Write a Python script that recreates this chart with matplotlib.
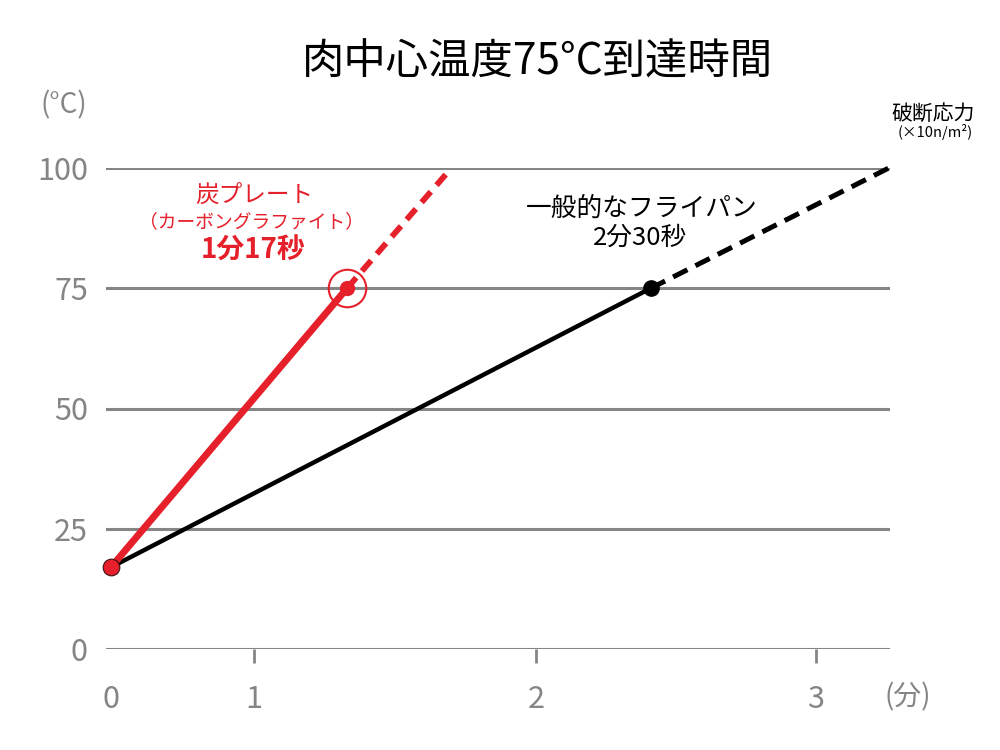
import numpy as np
import matplotlib
matplotlib.use("Agg")
import matplotlib.pyplot as plt

plt.rcParams['font.family'] = ['Noto Sans CJK JP', 'DejaVu Sans']

# data (minutes, degC)
start_temp = 17
plate_time = [0, 1.33]
plate_temp = [start_temp, 75]
plate_ext_time = [1.33, 1.70]
plate_ext_temp = [75, 100]
pan_time = [0, 2.41]
pan_temp = [start_temp, 75]
pan_ext_time = [2.41, 3.26]
pan_ext_temp = [75, 100]

x_ticks = [0, 1, 2, 3]
x_labels = ['0', '1', '2', '3']
y_ticks = [0, 25, 50, 75, 100]

RED = '#e5202a'
GRAY = '#858585'

# the drawn time axis is not evenly spaced: 0-1 is about half of 1-2 and 2-3
knot_min = np.array([-1, 0, 1, 2, 3, 4])
knot_pos = np.array([-32, 111, 254, 536, 816, 1096])


def fwd(x):
    return np.interp(x, knot_min, knot_pos)


def inv(p):
    return np.interp(p, knot_pos, knot_min)


fig = plt.figure(figsize=(10, 7.5), dpi=100)
ax = fig.add_axes([0.106, 1 - 649 / 750, 0.784, (649 - 168) / 750])
ax.set_xscale('function', functions=(fwd, inv))
ax.set_xlim(inv(106), inv(890))
ax.set_ylim(0, 100)

for v in y_ticks:
    ax.axhline(v, color=GRAY, lw=2.2, zorder=1)

for s in ax.spines.values():
    s.set_visible(False)

ax.set_xticks(x_ticks)
ax.set_xticklabels(x_labels)
ax.set_yticks(y_ticks)
ax.tick_params(axis='x', length=10, width=2, color=GRAY, labelcolor=GRAY,
               labelsize=22, pad=15)
ax.tick_params(axis='y', length=0, labelcolor=GRAY, labelsize=22, pad=13)
ax.xaxis.get_major_ticks()[0].tick1line.set_visible(False)

# general frying pan
ax.plot(pan_time, pan_temp, color='black', lw=3.2, solid_capstyle='butt', zorder=3)
ax.plot(pan_ext_time, pan_ext_temp, color='black', lw=3.6, ls=(0, (3.2, 1.8)),
        zorder=3, clip_on=False)
ax.plot(pan_time[1], pan_temp[1], 'o', color='black', ms=11, zorder=4)

# carbon graphite plate
ax.plot(plate_time, plate_temp, color=RED, lw=5, solid_capstyle='butt', zorder=5)
ax.plot(plate_ext_time, plate_ext_temp, color=RED, lw=4.2, ls=(0, (2.4, 1.5)),
        zorder=5, clip_on=False)
ax.plot(plate_time[1], plate_temp[1], 'o', color=RED, ms=10, zorder=6)
ax.plot(plate_time[1], plate_temp[1], 'o', mfc='none', mec=RED, mew=1.5, ms=27,
        zorder=6)
ax.plot(plate_time[0], plate_temp[0], 'o', mfc=RED, mec='#3a1010', mew=0.8,
        ms=12, zorder=7, clip_on=False)


def px(x, y):
    return x / 1000, 1 - y / 750


fig.text(*px(537, 63), '肉中心温度75°C到達時間', ha='center', va='center',
         fontsize=30.5, color='black')
fig.text(*px(64, 105), '(°C)', ha='center', va='center', fontsize=20, color=GRAY)
fig.text(*px(908, 697), '(分)', ha='center', va='center', fontsize=20, color=GRAY)

fig.text(*px(254, 195), '炭プレート', ha='center', va='center', fontsize=17,
         color=RED)
fig.text(*px(252, 222), '（カーボングラファイト）', ha='center', va='center',
         fontsize=13.5, color=RED)
fig.text(*px(253, 251), '1分17秒', ha='center', va='center', fontsize=20,
         color=RED, fontweight='bold')

fig.text(*px(642, 209), '一般的なフライパン', ha='center', va='center',
         fontsize=18.5, color='black')
fig.text(*px(640, 238), '2分30秒', ha='center', va='center', fontsize=18.5,
         color='black')

fig.text(*px(933, 114), '破断応力', ha='center', va='center', fontsize=15,
         color='black')
fig.text(*px(935, 132), '(×10n/m²)', ha='center', va='center', fontsize=10.5,
         color='black')

fig.savefig('out.png', dpi=100)
